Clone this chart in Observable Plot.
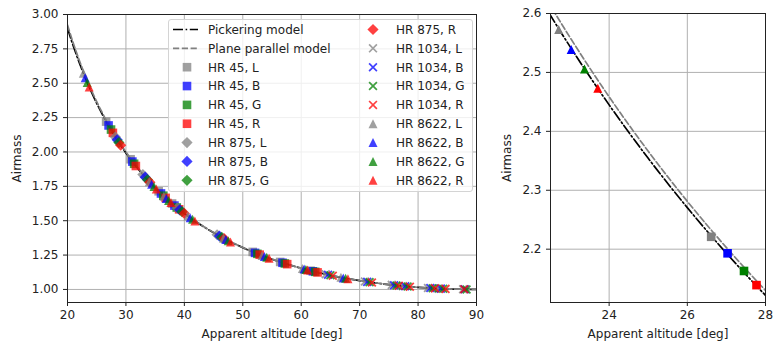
<!DOCTYPE html>
<html><head><meta charset="utf-8">
<script src="https://cdn.jsdelivr.net/npm/d3@7"></script>
<script src="https://cdn.jsdelivr.net/npm/@observablehq/plot@0.6"></script>
<style>
body{margin:0;background:#fff;}
#wrap{position:relative;width:776px;height:343px;display:flex;font-family:"DejaVu Sans",sans-serif;background:#fff;}
#legend{position:absolute;left:168px;top:19px;width:305px;height:173px;background:rgba(255,255,255,0.8);border:1px solid #d4d4d4;border-radius:3px;box-sizing:border-box;}
#legend svg{position:absolute;left:0;top:0;}
</style></head><body><div id="wrap"><div id="legend"></div></div>
<script>
// ---- data ----
const filters = ["L", "B", "G", "R"];
const filterColors = ["gray", "blue", "green", "red"];
const stars = ["HR 45", "HR 875", "HR 1034", "HR 8622"];

// observations: consecutive groups of four = L, B, G, R
const hr45Alt = [26.61, 27.03, 27.45, 27.77, 30.8, 31.1, 31.4, 31.7, 35.6, 36.0, 36.4, 36.8, 37.9, 38.3, 38.7, 39.1, 51.7, 52.1, 52.5, 52.9, 56.4, 56.8, 57.2, 57.6, 61.6, 62.0, 62.4, 62.8];
const hr45Airmass = [2.221, 2.193, 2.163, 2.139, 1.947, 1.930, 1.914, 1.898, 1.714, 1.698, 1.682, 1.666, 1.625, 1.610, 1.596, 1.583, 1.273, 1.266, 1.259, 1.253, 1.200, 1.194, 1.189, 1.184, 1.136, 1.132, 1.128, 1.124];
const hr875Alt = [28.2, 28.5, 28.8, 29.1, 32.9, 33.3, 33.7, 34.1, 38.8, 39.2, 39.6, 40.0, 45.6, 46.0, 46.4, 46.8];
const hr875Airmass = [2.108, 2.088, 2.068, 2.049, 1.836, 1.817, 1.798, 1.779, 1.593, 1.579, 1.566, 1.553, 1.398, 1.388, 1.379, 1.370];
const hr1034Alt = [64.2, 64.6, 65.0, 65.4, 70.9, 71.3, 71.7, 72.1, 75.5, 75.9, 76.3, 76.7, 77.4, 77.8, 78.2, 78.6, 81.7, 82.1, 82.5, 82.9, 83.5, 83.9, 84.3, 84.7, 87.7, 88.0, 88.3, 87.9];
const hr1034Airmass = [1.110, 1.107, 1.103, 1.099, 1.058, 1.055, 1.053, 1.051, 1.033, 1.031, 1.029, 1.027, 1.024, 1.023, 1.021, 1.020, 1.011, 1.010, 1.009, 1.008, 1.006, 1.006, 1.005, 1.004, 1.001, 1.001, 1.000, 1.001];
const hr8622Alt = [22.71, 23.03, 23.37, 23.71, 34.0, 34.4, 34.8, 35.2, 36.5, 36.9, 37.3, 37.7, 40.6, 41.0, 41.4, 41.8, 46.7, 47.1, 47.5, 47.9, 53.3, 53.7, 54.1, 54.5, 60.2, 60.5, 60.8, 61.1, 66.8, 67.2, 67.6, 68.0];
const hr8622Airmass = [2.573, 2.539, 2.506, 2.473, 1.784, 1.766, 1.748, 1.731, 1.678, 1.662, 1.647, 1.632, 1.534, 1.522, 1.510, 1.498, 1.373, 1.363, 1.355, 1.346, 1.246, 1.240, 1.234, 1.227, 1.152, 1.149, 1.145, 1.142, 1.088, 1.084, 1.081, 1.078];

// model curves
const modelAlt = [20, 21, 22, 22.5, 23, 24, 25, 26, 27, 28, 29, 30, 31, 32, 33, 34, 35, 36, 37, 38, 39, 40, 42, 44, 46, 48, 50, 52, 55, 58, 60, 65, 70, 75, 80, 85, 90];
const pickeringAirmass = [2.9001, 2.7700, 2.6517, 2.5966, 2.5438, 2.4449, 2.3542, 2.2705, 2.1932, 2.1216, 2.0550, 1.9932, 1.9354, 1.8815, 1.8310, 1.7837, 1.7393, 1.6975, 1.6581, 1.6210, 1.5860, 1.5530, 1.4922, 1.4376, 1.3884, 1.3442, 1.3041, 1.2679, 1.2199, 1.1784, 1.1541, 1.1029, 1.0639, 1.0351, 1.0153, 1.0038, 1.0000];
const planeParallelAirmass = [2.9238, 2.7904, 2.6695, 2.6131, 2.5593, 2.4586, 2.3662, 2.2812, 2.2027, 2.1301, 2.0627, 2.0000, 1.9416, 1.8871, 1.8361, 1.7883, 1.7434, 1.7013, 1.6616, 1.6243, 1.5890, 1.5557, 1.4945, 1.4396, 1.3902, 1.3456, 1.3054, 1.2690, 1.2208, 1.1792, 1.1547, 1.1034, 1.0642, 1.0353, 1.0154, 1.0038, 1.0000];

// axis ticks
const mainXTicks = [20, 30, 40, 50, 60, 70, 80, 90];
const mainYTicks = [1.00, 1.25, 1.50, 1.75, 2.00, 2.25, 2.50, 2.75, 3.00];
const zoomXTicks = [24, 26, 28];
const zoomYTicks = [2.2, 2.3, 2.4, 2.5, 2.6];

// ---- build tables ----
const starAlts = [hr45Alt, hr875Alt, hr1034Alt, hr8622Alt];
const starAirmass = [hr45Airmass, hr875Airmass, hr1034Airmass, hr8622Airmass];
const obs = [];
stars.forEach((s, si) => {
  const part = starAlts[si].map((a, i) => ({star: s, filter: filters[i % 4], fi: i % 4, alt: a, airmass: starAirmass[si][i]}));
  part.sort((a, b) => a.fi - b.fi);
  obs.push(...part);
});
const model = modelAlt.map((a, i) => ({alt: a, pickering: pickeringAirmass[i], plane: planeParallelAirmass[i]}));

// ---- symbols (matplotlib-like) ----
const rad = size => Math.sqrt(size / Math.PI);
const symSquare = {draw(c, size) { const s = rad(size); c.moveTo(-s, -s); c.lineTo(s, -s); c.lineTo(s, s); c.lineTo(-s, s); c.closePath(); }};
const symDiamond = {draw(c, size) { const s = rad(size); c.moveTo(0, -s); c.lineTo(s, 0); c.lineTo(0, s); c.lineTo(-s, 0); c.closePath(); }};
const symTriangle = {draw(c, size) { const s = rad(size); c.moveTo(0, -s); c.lineTo(s, s); c.lineTo(-s, s); c.closePath(); }};
const symX = {draw(c, size) { const s = rad(size); c.moveTo(-s, -s); c.lineTo(s, s); c.moveTo(s, -s); c.lineTo(-s, s); }};
const starSym = {"HR 45": [symSquare, 4.3, false], "HR 875": [symDiamond, 5.6, false], "HR 1034": [symX, 3.9, true], "HR 8622": [symTriangle, 4.5, false]};

const pickDash = "10,2.6,1.6,2.6";
const planeDash = "6.2,2.6";
const fontPx = "12px";

function chart({width, marginLeft, marginRight, marginTop, xDomain, yDomain, xTicks, yTicks, yFormat, labelOffsetY, opacity}) {
  const dotMarks = stars.map(s => {
    const [sym, r, stroked] = starSym[s];
    const data = obs.filter(d => d.star === s);
    return stroked
      ? Plot.dot(data, {x: "alt", y: "airmass", symbol: sym, r, stroke: "filter", fill: "none", strokeWidth: 1.8, strokeOpacity: opacity, clip: true})
      : Plot.dot(data, {x: "alt", y: "airmass", symbol: sym, r, fill: "filter", stroke: "none", fillOpacity: opacity, clip: true});
  });
  return Plot.plot({
    width, height: 343, marginLeft, marginRight, marginTop, marginBottom: 41,
    style: {fontFamily: "DejaVu Sans", fontSize: fontPx, color: "#222", background: "transparent", overflow: "visible"},
    x: {domain: xDomain, label: null},
    y: {domain: yDomain, label: null},
    color: {domain: filters, range: filterColors},
    marks: [
      Plot.gridX(xTicks, {stroke: "#b0b0b0", strokeOpacity: 1, strokeWidth: 1}),
      Plot.gridY(yTicks, {stroke: "#b0b0b0", strokeOpacity: 1, strokeWidth: 1}),
      Plot.line(model, {x: "alt", y: "pickering", stroke: "black", strokeWidth: 1.7, strokeDasharray: pickDash, curve: "monotone-x", clip: true}),
      Plot.line(model, {x: "alt", y: "plane", stroke: "gray", strokeWidth: 1.7, strokeDasharray: planeDash, curve: "monotone-x", clip: true}),
      ...dotMarks,
      Plot.frame({stroke: "#222", strokeWidth: 1}),
      Plot.axisX(xTicks, {tickSize: 4, tickPadding: 4, label: "Apparent altitude [deg]", labelAnchor: "center", labelArrow: "none", labelOffset: 35}),
      Plot.axisY(yTicks, {tickSize: 4, tickPadding: 5, tickFormat: yFormat, label: "Airmass", labelAnchor: "center", labelArrow: "none", labelOffset: labelOffsetY})
    ]
  });
}

const wrap = document.getElementById("wrap");
const left = chart({width: 500, marginLeft: 67, marginRight: 24, marginTop: 14, xDomain: [20, 90], yDomain: [0.905, 3.0],
  xTicks: mainXTicks, yTicks: mainYTicks, yFormat: d3.format(".2f"), labelOffsetY: 55, opacity: 0.75});
const right = chart({width: 276, marginLeft: 50, marginRight: 11, marginTop: 13, xDomain: [22.5, 28], yDomain: [2.1095, 2.6],
  xTicks: zoomXTicks, yTicks: zoomYTicks, yFormat: d3.format(".1f"), labelOffsetY: 48, opacity: 1});
wrap.insertBefore(left, wrap.firstChild);
wrap.insertBefore(right, document.getElementById("legend"));

// ---- legend ----
const legendItems = [
  {type: "line", label: "Pickering model", stroke: "black", dash: pickDash},
  {type: "line", label: "Plane parallel model", stroke: "gray", dash: planeDash}
];
stars.forEach(s => filters.forEach((f, fi) => legendItems.push({type: "dot", star: s, label: `${s}, ${f}`, color: filterColors[fi]})));
const lg = d3.select("#legend").append("svg").attr("width", 303).attr("height", 171)
  .style("font-family", "DejaVu Sans").style("font-size", fontPx);
legendItems.forEach((it, i) => {
  const col = i < 9 ? 0 : 1, row = i % 9;
  const cx = col === 0 ? 18 : 204, tx = col === 0 ? 39 : 227, cy = 9.5 + row * 18.85;
  const g = lg.append("g");
  if (it.type === "line") {
    g.append("line").attr("x1", cx - 14).attr("x2", cx + 11).attr("y1", cy).attr("y2", cy)
      .attr("stroke", it.stroke).attr("stroke-width", 1.7).attr("stroke-dasharray", it.dash);
  } else {
    const [sym, r, stroked] = starSym[it.star];
    const p = d3.path(); sym.draw(p, Math.PI * r * r);
    const path = g.append("path").attr("d", p.toString()).attr("transform", `translate(${cx},${cy})`);
    if (stroked) path.attr("fill", "none").attr("stroke", it.color).attr("stroke-width", 1.7).attr("stroke-opacity", 0.75);
    else path.attr("fill", it.color).attr("fill-opacity", 0.75);
  }
  g.append("text").attr("x", tx).attr("y", cy).attr("dy", "0.36em").attr("fill", "#222").text(it.label);
});
</script></body></html>
